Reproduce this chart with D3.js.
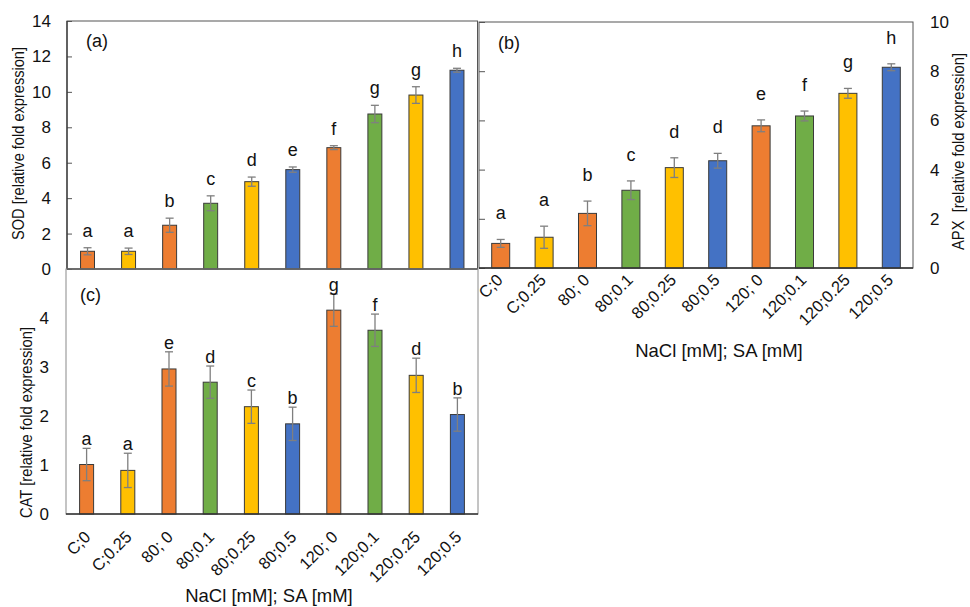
<!DOCTYPE html>
<html>
<head>
<meta charset="utf-8">
<script src="https://cdn.jsdelivr.net/npm/d3@7"></script>
<style>
  html, body { margin: 0; padding: 0; background: #fff; }
  svg { display: block; font-family: "Liberation Sans", Arial, sans-serif; }
</style>
</head>
<body>
<svg id="chart" width="970" height="607"></svg>
<script>
// Treatments: NaCl [mM]; SA [mM]
const categories = ["C;0", "C;0.25", "80; 0", "80;0.1", "80;0.25", "80;0.5", "120; 0", "120;0.1", "120;0.25", "120;0.5"];
const saLevel = ["0", "0.25", "0", "0.1", "0.25", "0.5", "0", "0.1", "0.25", "0.5"];

// (a) SOD relative fold expression
const sodMean = [1.0, 1.0, 2.47, 3.71, 4.93, 5.61, 6.85, 8.75, 9.82, 11.22];
const sodErr = [0.2, 0.18, 0.4, 0.42, 0.26, 0.15, 0.11, 0.49, 0.47, 0.11];
const sodLetters = ["a", "a", "b", "c", "d", "e", "f", "g", "g", "h"];
const sodTicks = [0, 2, 4, 6, 8, 10, 12, 14];

// (b) APX relative fold expression
const apxMean = [1.0, 1.25, 2.22, 3.16, 4.08, 4.36, 5.78, 6.18, 7.1, 8.16];
const apxErr = [0.16, 0.45, 0.5, 0.38, 0.4, 0.3, 0.24, 0.2, 0.2, 0.14];
const apxLetters = ["a", "a", "b", "c", "d", "d", "e", "f", "g", "h"];
const apxTicks = [0, 2, 4, 6, 8, 10];

// (c) CAT relative fold expression
const catMean = [1.01, 0.89, 2.96, 2.69, 2.19, 1.84, 4.16, 3.75, 2.83, 2.03];
const catErr = [0.33, 0.35, 0.35, 0.33, 0.34, 0.34, 0.33, 0.33, 0.35, 0.34];
const catLetters = ["a", "a", "e", "d", "c", "b", "g", "f", "d", "b"];
const catTicks = [0, 1, 2, 3, 4];

const saColor = d3.scaleOrdinal()
  .domain(["0", "0.1", "0.25", "0.5"])
  .range(["#ED7D31", "#70AD47", "#FFC000", "#4472C4"]);

const svg = d3.select("#chart");
const FONT_TICK = 17;

function drawPanel(cfg) {
  const x = d3.scaleBand()
    .domain(categories)
    .range([cfg.left, cfg.right])
    .paddingInner(cfg.pad)
    .paddingOuter(cfg.pad / 2);
  const y = d3.scaleLinear().domain(cfg.domain).range([cfg.bottom, cfg.top]);

  const g = svg.append("g");

  // frame
  g.append("rect")
    .attr("x", cfg.left).attr("y", cfg.top)
    .attr("width", cfg.right - cfg.left).attr("height", cfg.bottom - cfg.top)
    .attr("fill", "none").attr("stroke", cfg.frameColor).attr("stroke-width", 1);

  // y axis
  if (cfg.axisSide === "left") {
    const ax = g.append("g")
      .attr("transform", `translate(${cfg.left},0)`)
      .call(d3.axisLeft(y).tickValues(cfg.ticks).tickSize(-cfg.tickIn).tickPadding(cfg.tickPad).tickFormat(d3.format("d")));
    ax.select(".domain").remove();
    ax.selectAll("line").attr("stroke", "#555");
    ax.selectAll("text").attr("font-size", FONT_TICK).attr("fill", "#111")
      .attr("font-family", "Liberation Sans, Arial, sans-serif");
  } else {
    const ax = g.append("g")
      .attr("transform", `translate(${cfg.right},0)`)
      .call(d3.axisRight(y).tickValues(cfg.ticks).tickSize(0).tickPadding(cfg.tickPad).tickFormat(d3.format("d")));
    ax.select(".domain").remove();
    ax.selectAll("text").attr("font-size", FONT_TICK).attr("fill", "#111")
      .attr("font-family", "Liberation Sans, Arial, sans-serif");
    const axIn = g.append("g")
      .attr("transform", `translate(${cfg.left},0)`)
      .call(d3.axisLeft(y).tickValues(cfg.ticks).tickSize(-cfg.tickIn).tickFormat(""));
    axIn.select(".domain").remove();
    axIn.selectAll("line").attr("stroke", "#555");
  }

  // bars
  g.selectAll("rect.bar")
    .data(cfg.mean)
    .join("rect")
    .attr("class", "bar")
    .attr("x", (d, i) => x(categories[i]))
    .attr("y", d => y(d))
    .attr("width", x.bandwidth())
    .attr("height", d => y(0) - y(d))
    .attr("fill", (d, i) => saColor(saLevel[i]))
    .attr("stroke", "#3a3a3a")
    .attr("stroke-width", 1);

  // error bars
  const cx = i => x(categories[i]) + x.bandwidth() / 2;
  const eb = g.selectAll("g.err")
    .data(cfg.mean)
    .join("g")
    .attr("class", "err")
    .attr("stroke", "#7f7f7f")
    .attr("stroke-width", 1.3);
  eb.append("line")
    .attr("x1", (d, i) => cx(i)).attr("x2", (d, i) => cx(i))
    .attr("y1", (d, i) => y(d + cfg.err[i])).attr("y2", (d, i) => y(d - cfg.err[i]));
  eb.append("line")
    .attr("x1", (d, i) => cx(i) - 4).attr("x2", (d, i) => cx(i) + 4)
    .attr("y1", (d, i) => y(d + cfg.err[i])).attr("y2", (d, i) => y(d + cfg.err[i]));
  eb.append("line")
    .attr("x1", (d, i) => cx(i) - 4).attr("x2", (d, i) => cx(i) + 4)
    .attr("y1", (d, i) => y(d - cfg.err[i])).attr("y2", (d, i) => y(d - cfg.err[i]));

  // significance letters
  g.selectAll("text.sig")
    .data(cfg.letters)
    .join("text")
    .attr("class", "sig")
    .attr("x", (d, i) => cx(i))
    .attr("y", (d, i) => y(cfg.mean[i] + cfg.err[i]) - cfg.letterGap)
    .attr("text-anchor", "middle")
    .attr("font-size", 18)
    .attr("fill", "#111")
    .text(d => d);

  // x axis line
  g.append("line")
    .attr("x1", cfg.left).attr("x2", cfg.right)
    .attr("y1", cfg.bottom).attr("y2", cfg.bottom)
    .attr("stroke", "#333").attr("stroke-width", 1.3);

  // left axis line (dark)
  if (cfg.axisSide === "left" && cfg.darkLeft) {
    g.append("line")
      .attr("x1", cfg.left).attr("x2", cfg.left)
      .attr("y1", cfg.top).attr("y2", cfg.bottom)
      .attr("stroke", "#333").attr("stroke-width", 1.2);
  }

  // rotated category labels
  if (cfg.xLabels) {
    g.selectAll("text.cat")
      .data(categories)
      .join("text")
      .attr("class", "cat")
      .attr("transform", (d, i) => `translate(${cx(i) + cfg.xLabelDx},${cfg.bottom + cfg.xLabelDy}) rotate(-45)`)
      .attr("text-anchor", "end")
      .attr("font-size", 16.5)
      .attr("fill", "#111")
      .style("white-space", "pre")
      .text(d => d);
  }

  // panel tag
  g.append("text")
    .attr("x", cfg.tagX).attr("y", cfg.tagY)
    .attr("font-size", 18).attr("fill", "#111")
    .text(cfg.tag);

  return { x, y };
}

// (a) SOD
drawPanel({
  left: 67, right: 477.5, top: 21, bottom: 269,
  domain: [0, 14], ticks: sodTicks, pad: 0.66,
  mean: sodMean, err: sodErr, letters: sodLetters, letterGap: 11,
  axisSide: "left", tickIn: 5, tickPad: 16, darkLeft: true,
  frameColor: "#555", xLabels: false,
  tag: "(a)", tagX: 86, tagY: 47
});

// (c) CAT
drawPanel({
  left: 66, right: 478, top: 269, bottom: 514,
  domain: [0, 5], ticks: catTicks, pad: 0.66,
  mean: catMean, err: catErr, letters: catLetters, letterGap: 3,
  axisSide: "left", tickIn: 0, tickPad: 17, darkLeft: false,
  frameColor: "#8a8a8a", xLabels: true, xLabelDx: 5, xLabelDy: 24,
  tag: "(c)", tagX: 80, tagY: 301
});

// (b) APX
drawPanel({
  left: 479, right: 913, top: 22, bottom: 268,
  domain: [0, 10], ticks: apxTicks, pad: 0.585,
  mean: apxMean, err: apxErr, letters: apxLetters, letterGap: 20,
  axisSide: "right", tickIn: 6, tickPad: 17,
  frameColor: "#555", xLabels: true, xLabelDx: 3, xLabelDy: 13,
  tag: "(b)", tagX: 498, tagY: 49
});

// axis titles
function yTitle(text, x, y, len) {
  svg.append("text")
    .attr("transform", `translate(${x},${y}) rotate(-90)`)
    .attr("text-anchor", "middle")
    .attr("dominant-baseline", "central")
    .attr("font-size", 17)
    .attr("fill", "#111")
    .attr("textLength", len)
    .attr("lengthAdjust", "spacingAndGlyphs")
    .style("white-space", "pre")
    .text(text);
}
yTitle("SOD [relative fold expression]", 18.5, 143.5, 193);
yTitle("CAT [relative fold expression]", 26.5, 422.5, 191);
yTitle("APX  [relative fold expression]", 958.5, 151.5, 197);

function xTitle(text, x, y) {
  svg.append("text")
    .attr("x", x).attr("y", y)
    .attr("text-anchor", "middle")
    .attr("font-size", 18.5)
    .attr("fill", "#111")
    .text(text);
}
xTitle("NaCl [mM]; SA [mM]", 719, 357);
xTitle("NaCl [mM]; SA [mM]", 269, 602);
</script>
</body>
</html>
